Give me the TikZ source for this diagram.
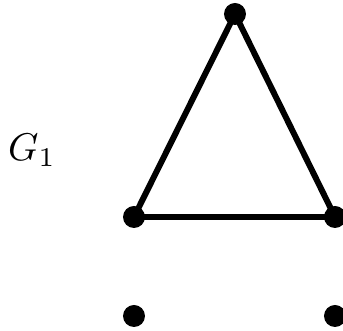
\documentclass[tikz,border=0pt]{standalone}
\usetikzlibrary{positioning}

\begin{document}
\begin{tikzpicture}[
    vx/.style={circle, fill=black, inner sep=0pt, minimum size=0.44cm},
    ed/.style={line width=3.4pt},
    lbl/.style={scale=2.2},
]
    \useasboundingbox (0,0) rectangle (6.86,-6.62);

    \node[vx] (a) at (4.70,-0.28) {};
    \node[vx] (b) at (2.68,-4.34) {};
    \node[vx] (c) at (6.70,-4.34) {};
    \node[vx] (d) at (2.68,-6.32) {};
    \node[vx] (e) at (6.70,-6.32) {};

    % label
    \node[lbl] (lab) at (0.64,-3.0) {$G_1$};

    % edges
    \draw[ed] (a.center) -- (b.center) -- (c.center) -- cycle;

\end{tikzpicture}
\end{document}
